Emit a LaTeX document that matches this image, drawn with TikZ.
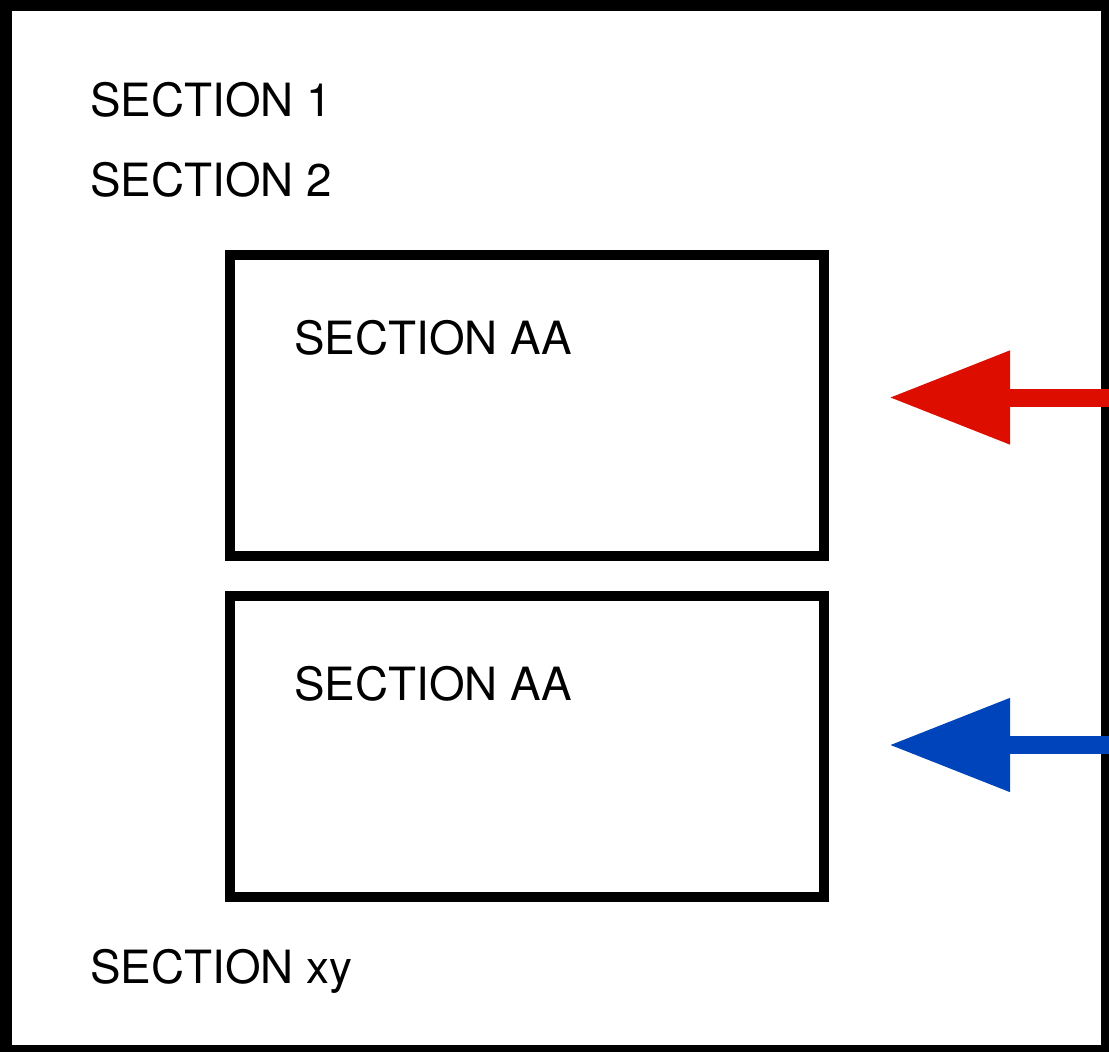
\documentclass[tikz,border=0pt]{standalone}
\usepackage{fontspec}
\setmainfont{TeX Gyre Heros}
\usetikzlibrary{arrows.meta}
\definecolor{arrred}{RGB}{221,13,0}
\definecolor{arrblue}{RGB}{0,68,187}
\begin{document}
\begin{tikzpicture}[x=1pt,y=-1pt,
  lbl/.style={anchor=base west,inner sep=0pt,font=\fontsize{45.8}{54}\selectfont},
  secbox/.style={draw=black,line width=10pt,minimum width=593.5pt,minimum height=301.5pt,inner sep=0pt,outer sep=0pt,anchor=north west},
  bigarrow/.style={line width=18pt,-{Triangle[length=121pt,width=89pt]}}]
\useasboundingbox (0,0) rectangle (1109,1052);
\draw[line width=12pt] (6,5) rectangle (1107,1051);
\node[secbox] (boxa) at (230,254.5) {};
\node[secbox] (boxb) at (230,595.5) {};
\node[lbl] (s1) at (90,116) {SECTION 1};
\node[lbl] (s2) at (90,196) {SECTION 2};
\node[lbl] (aa1) at (294,354) {SECTION AA};
\node[lbl] (aa2) at (294,700) {SECTION AA};
\node[lbl] (sxy) at (90,983) {SECTION xy};
\coordinate (ra) at (1109,397.5);
\coordinate (rb) at (889,397.5);
\coordinate (ba) at (1109,745);
\coordinate (bb) at (889,745);
\draw[bigarrow,arrred] (ra) -- (rb);
\draw[bigarrow,arrblue] (ba) -- (bb);
\end{tikzpicture}
\end{document}
